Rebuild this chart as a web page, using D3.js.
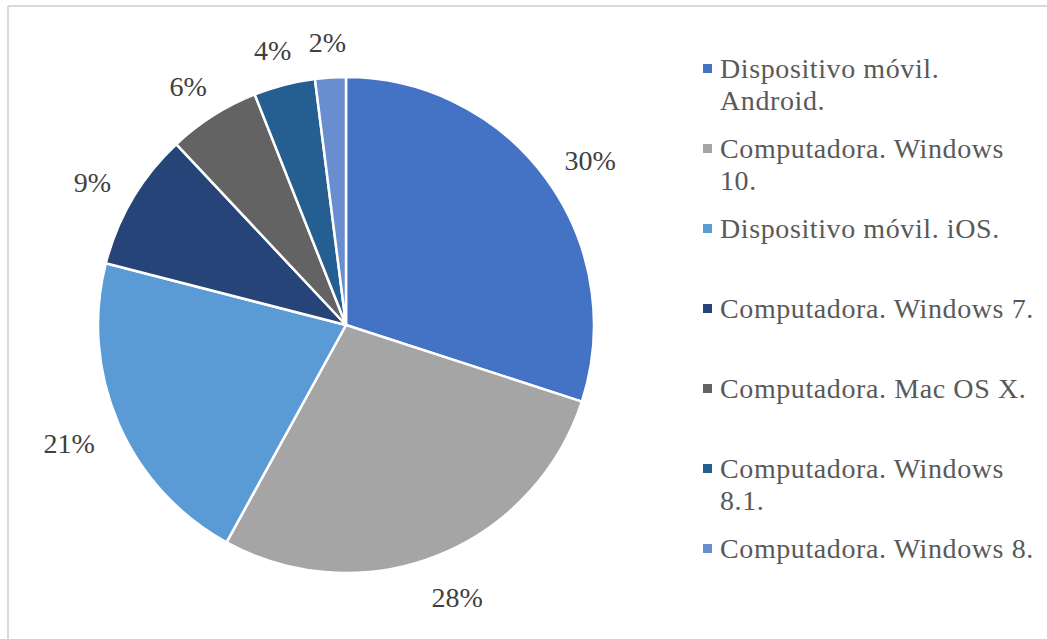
<!DOCTYPE html>
<html lang="es">
<head>
  <meta charset="UTF-8">
  <title>Pie chart</title>
  <script src="https://d3js.org/d3.v7.min.js"></script>
  <style>
    body { margin: 0; background: #ffffff; }
    svg { display: block; }
    text { font-family: "Liberation Serif", "Times New Roman", serif; }
  </style>
</head>
<body>
  <script>
    const categories = [
      "Dispositivo móvil. Android.",
      "Computadora. Windows 10.",
      "Dispositivo móvil. iOS.",
      "Computadora. Windows 7.",
      "Computadora. Mac OS X.",
      "Computadora. Windows 8.1.",
      "Computadora. Windows 8."
    ];
    const values = [30, 28, 21, 9, 6, 4, 2];
    const palette = ["#4472C4", "#A5A5A5", "#5B9BD5", "#264478", "#636363", "#255E91", "#698ED0"];

    const width = 1047, height = 639;
    const cx = 346, cy = 325, radius = 248;
    const labelGap = 28;

    const svg = d3.select("body").append("svg")
        .attr("width", width)
        .attr("height", height);

    // frame (only top and left edges visible)
    svg.append("line").attr("x1", 8).attr("x2", width).attr("y1", 6).attr("y2", 6)
        .attr("stroke", "#d9d9d9").attr("stroke-width", 2);
    svg.append("line").attr("x1", 8).attr("x2", 8).attr("y1", 6).attr("y2", height)
        .attr("stroke", "#d9d9d9").attr("stroke-width", 2);

    const color = d3.scaleOrdinal().domain(categories).range(palette);

    const pie = d3.pie().sort(null).value(d => d.value);
    const arcs = pie(categories.map((c, i) => ({ name: c, value: values[i] })));

    const arc = d3.arc().innerRadius(0).outerRadius(radius);
    const labelArc = d3.arc().innerRadius(radius + labelGap).outerRadius(radius + labelGap);

    const g = svg.append("g").attr("transform", `translate(${cx},${cy})`);

    g.selectAll("path")
      .data(arcs)
      .join("path")
        .attr("d", arc)
        .attr("fill", d => color(d.data.name))
        .attr("stroke", "#ffffff")
        .attr("stroke-width", 2.5)
        .attr("stroke-linejoin", "round");

    // outside-end labels: push the label box outward from its anchor point
    g.selectAll("text")
      .data(arcs)
      .join("text")
        .attr("text-anchor", "middle")
        .attr("dy", "0.5em")
        .attr("fill", "#404040")
        .attr("font-size", 28)
        .text(d => `${d.data.value}%`)
        .each(function(d) {
          const w = this.getComputedTextLength();
          const h = 24;
          const a = (d.startAngle + d.endAngle) / 2;
          const [px, py] = labelArc.centroid(d);
          const x = px + Math.sin(a) * w / 2;
          const y = py - Math.cos(a) * h / 2;
          d3.select(this).attr("transform", `translate(${x},${y})`);
        });

    // legend
    const legend = svg.append("g").attr("transform", "translate(703,68)");
    const maxW = 318;

    const item = legend.selectAll("g")
      .data(categories)
      .join("g")
        .attr("transform", (d, i) => `translate(0,${i * 80})`);

    item.append("rect")
        .attr("x", 0).attr("y", -4)
        .attr("width", 9).attr("height", 9)
        .attr("fill", d => color(d));

    item.append("text")
        .attr("x", 17)
        .attr("fill", "#595959")
        .attr("font-size", 28)
        .attr("letter-spacing", 0.6)
        .each(function(d) {
          const t = d3.select(this);
          const words = d.split(" ");
          let line = [];
          let lineNo = 0;
          let tspan = t.append("tspan").attr("x", 17).attr("dy", "0.35em");
          words.forEach(w => {
            line.push(w);
            tspan.text(line.join(" "));
            if (tspan.node().getComputedTextLength() > maxW && line.length > 1) {
              line.pop();
              tspan.text(line.join(" "));
              line = [w];
              lineNo++;
              tspan = t.append("tspan").attr("x", 17).attr("y", lineNo * 32).attr("dy", "0.35em").text(w);
            }
          });
        });
  </script>
</body>
</html>
